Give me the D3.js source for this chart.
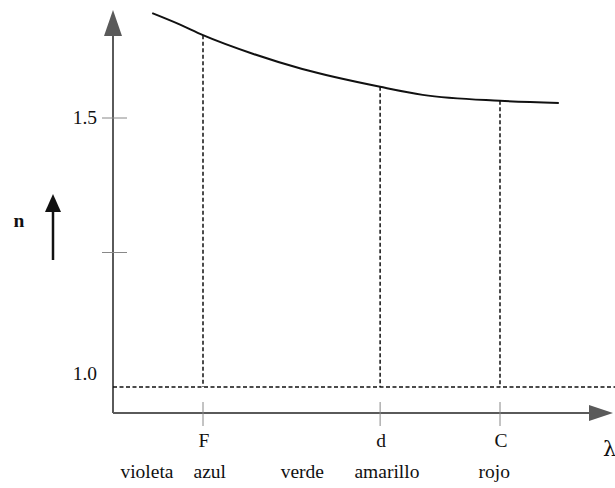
<!DOCTYPE html>
<html>
<head>
<meta charset="utf-8">
<script src="https://cdn.jsdelivr.net/npm/d3@7"></script>
<style>
  html, body { margin: 0; padding: 0; background: #fff; }
  svg { display: block; }
</style>
</head>
<body>
<div id="chart"></div>
<script>
// dispersion curve n(λ), λ in nm
const lambdas = [457, 472, 486.1, 515, 543, 587.6, 612, 656.3, 690];
const nValues = [1.695, 1.675, 1.654, 1.619, 1.591, 1.558, 1.543, 1.532, 1.528];

// Fraunhofer lines
const lineNames = ["F", "d", "C"];
const lineLambdas = [486.1, 587.6, 656.3];

// colour names under the axis
const colourNames = ["violeta", "azul", "verde", "amarillo", "rojo"];
const colourLambdas = [454, 490, 543, 591.5, 653];

const yTickValues = [1.0, 1.25, 1.5];
const yTickLabels = ["1.0", "", "1.5"];
const nBase = 1.0;

const width = 615;
const height = 488;
const x0 = 113;   // y axis position
const y0 = 413;   // x axis position

const x = d3.scaleLinear().domain([486.1, 656.3]).range([203, 500]);
const y = d3.scaleLinear().domain([1.0, 1.5]).range([387, 118]);

const serif = "Liberation Serif";
const fs = 19.5;

const svg = d3.select("#chart")
  .append("svg")
  .attr("width", width)
  .attr("height", height);

const axisColor = "#5a5a5a";
const textColor = "#111";
const dash = "4,2.5";

// axes
svg.append("line")
  .attr("x1", x0).attr("y1", y0).attr("x2", x0).attr("y2", 30)
  .attr("stroke", axisColor).attr("stroke-width", 2);
svg.append("path")
  .attr("d", `M${x0},10 L${x0 - 9},36 L${x0 + 9},36 Z`)
  .attr("fill", axisColor);

svg.append("line")
  .attr("x1", x0).attr("y1", y0).attr("x2", 595).attr("y2", y0)
  .attr("stroke", axisColor).attr("stroke-width", 2);
svg.append("path")
  .attr("d", `M613,${y0} L589,${y0 - 8} L589,${y0 + 8} Z`)
  .attr("fill", axisColor);

// y ticks
yTickValues.forEach(function(v, i) {
  if (v !== nBase) {
    svg.append("line")
      .attr("x1", x0 - 11).attr("x2", x0 + 14)
      .attr("y1", y(v)).attr("y2", y(v))
      .attr("stroke", "#888").attr("stroke-width", 1);
  }
  if (yTickLabels[i]) {
    svg.append("text")
      .attr("x", x0 - 16)
      .attr("y", v === nBase ? y(v) - 7 : y(v) + 6)
      .attr("text-anchor", "end")
      .attr("font-family", serif)
      .attr("font-size", fs)
      .attr("fill", textColor)
      .text(yTickLabels[i]);
  }
});

// x ticks at the lines
lineLambdas.forEach(function(l, i) {
  svg.append("line")
    .attr("x1", x(l)).attr("x2", x(l))
    .attr("y1", y0 - 11).attr("y2", y0 + 13)
    .attr("stroke", "#888").attr("stroke-width", 1);
  svg.append("text")
    .attr("x", x(l) + 1)
    .attr("y", 447)
    .attr("text-anchor", "middle")
    .attr("font-family", serif)
    .attr("font-size", fs)
    .attr("fill", textColor)
    .text(lineNames[i]);
});

colourNames.forEach(function(c, i) {
  svg.append("text")
    .attr("x", x(colourLambdas[i]))
    .attr("y", 478)
    .attr("text-anchor", "middle")
    .attr("font-family", serif)
    .attr("font-size", fs)
    .attr("fill", textColor)
    .text(c);
});

// baseline n = 1.0
svg.append("line")
  .attr("x1", x0).attr("x2", width)
  .attr("y1", y(nBase)).attr("y2", y(nBase))
  .attr("stroke", "#111").attr("stroke-width", 1.5)
  .attr("stroke-dasharray", dash);

// curve
const pts = lambdas.map(function(l, i) { return [l, nValues[i]]; });
const interp = d3.scaleLinear().domain(lambdas).range(nValues);

svg.append("path")
  .datum(pts)
  .attr("fill", "none")
  .attr("stroke", "#111")
  .attr("stroke-width", 2)
  .attr("d", d3.line()
    .x(function(d) { return x(d[0]); })
    .y(function(d) { return y(d[1]); })
    .curve(d3.curveMonotoneX));

// dashed drops
lineLambdas.forEach(function(l) {
  svg.append("line")
    .attr("x1", x(l)).attr("x2", x(l))
    .attr("y1", y(interp(l))).attr("y2", y(nBase))
    .attr("stroke", "#111").attr("stroke-width", 1.5)
    .attr("stroke-dasharray", dash);
});

// axis titles
svg.append("text")
  .attr("x", 19).attr("y", 227)
  .attr("text-anchor", "middle")
  .attr("font-family", serif)
  .attr("font-size", fs)
  .attr("font-weight", "bold")
  .attr("fill", textColor)
  .text("n");
svg.append("line")
  .attr("x1", 53).attr("x2", 53).attr("y1", 260).attr("y2", 208)
  .attr("stroke", "#111").attr("stroke-width", 2.5);
svg.append("path")
  .attr("d", "M53,194 L45,212 L61,212 Z")
  .attr("fill", "#111");

svg.append("text")
  .attr("x", 603).attr("y", 456)
  .attr("font-family", "DejaVu Serif")
  .attr("font-size", 21)
  .attr("fill", textColor)
  .text("λ");
</script>
</body>
</html>
